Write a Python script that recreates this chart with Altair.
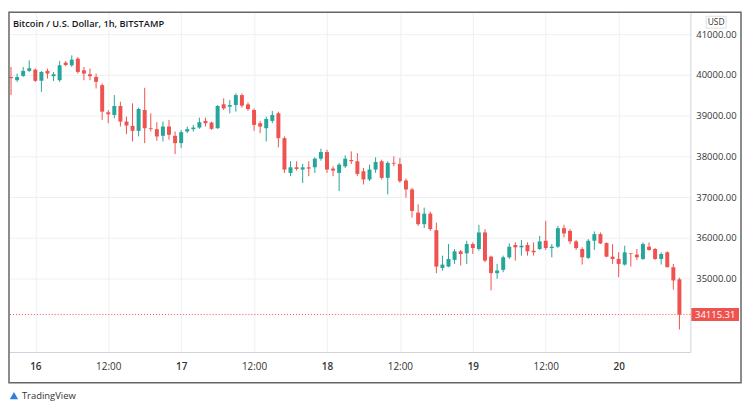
import altair as alt
import pandas as pd
import numpy as np

# ---------------- data (hourly candles, BITSTAMP BTCUSD) ----------------
START = "2021-06-15 20:00"
OPEN = [39950, 39870, 39976, 40098, 40130, 39854, 40098, 39968, 39870, 40301,
        40236, 40398, 40114, 40016, 39951, 39748, 39081, 39016, 39236, 38854,
        38748, 38626, 39138, 38690, 38667, 38504, 38732, 38504, 38325, 38610,
        38667, 38707, 38870, 38829, 38691, 39277, 39220, 39260, 39504, 39276,
        39138, 38813, 38691, 38870, 39057, 38447, 37593, 37731, 37675, 37731,
        37731, 37943, 38105, 37699, 37593, 37756, 37910, 37878, 37634, 37431,
        37675, 37878, 37472, 37840, 37813, 37407, 37187, 36618, 36334, 36594,
        36187, 35260, 35293, 35456, 35667, 35618, 35846, 35724, 36131, 35537,
        35131, 35212, 35521, 35822, 35765, 35822, 35683, 35724, 35927, 35748,
        35781, 36236, 36171, 35911, 35724, 35505, 35927, 36090, 35870, 35537,
        35480, 35342, 35620, 35586, 35480, 35781, 35724, 35480, 35643, 35277,
        34979.38]
HIGH = [40195, 40033, 40195, 40358, 40155, 40098, 40155, 40073, 40342, 40342,
        40480, 40439, 40195, 40155, 40033, 39789, 39138, 39504, 39342, 38976,
        39301, 39195, 39683, 39057, 38838, 38854, 38894, 38610, 38650, 38732,
        38772, 38951, 38951, 38854, 39260, 39423, 39382, 39545, 39545, 39325,
        39179, 38870, 38975, 39114, 39097, 38488, 37878, 37878, 37813, 37878,
        37975, 38187, 38162, 37756, 37837, 38025, 38122, 38081, 37716, 37797,
        37976, 37919, 37878, 38000, 37960, 37455, 37228, 36821, 36740, 36642,
        36374, 35561, 35846, 35724, 35700, 35927, 35887, 36318, 36212, 35561,
        35358, 35561, 35862, 35887, 35944, 35887, 35887, 36049, 36415, 35846,
        36293, 36318, 36212, 35944, 35765, 35968, 36155, 36131, 35887, 35846,
        35643, 35805, 35625, 35724, 35887, 35887, 35748, 35643, 35667, 35358,
        35022.18]
LOW = [39504, 39829, 39951, 40073, 39829, 39585, 39911, 39854, 39829, 40212,
       40195, 40033, 39870, 39870, 39667, 38894, 38813, 38935, 38732, 38545,
       38366, 38488, 38325, 38610, 38382, 38366, 38407, 38057, 38203, 38569,
       38610, 38675, 38732, 38650, 38675, 39138, 39057, 39098, 39195, 39114,
       38626, 38569, 38366, 38813, 38219, 37593, 37512, 37650, 37349, 37512,
       37593, 37894, 37593, 37512, 37146, 37716, 37813, 37512, 37309, 37390,
       37594, 37431, 37065, 37756, 37350, 36984, 36496, 36293, 36236, 36171,
       35130, 35195, 35277, 35358, 35318, 35358, 35602, 35683, 35399, 34708,
       34992, 35155, 35480, 35440, 35561, 35561, 35561, 35700, 35700, 35521,
       35748, 36009, 35846, 35700, 35342, 35480, 35700, 35846, 35521, 35358,
       35033, 35318, 35293, 35456, 35456, 35683, 35456, 35342, 35277, 34724,
       33748.35]
CLOSE = [39920, 39950, 40098, 40163, 39854, 40073, 40033, 40016, 40236, 40244,
         40374, 40073, 40033, 39968, 39829, 39098, 39033, 39236, 38854, 38756,
         38626, 39163, 38691, 38670, 38488, 38732, 38529, 38325, 38594, 38667,
         38707, 38838, 38813, 38675, 39236, 39179, 39260, 39504, 39244, 39162,
         38772, 38731, 38918, 39016, 38447, 37675, 37731, 37691, 37731, 37699,
         37943, 38105, 37675, 37650, 37796, 37943, 37880, 37569, 37431, 37675,
         37862, 37472, 37838, 37820, 37390, 37187, 36659, 36334, 36594, 36212,
         35293, 35342, 35480, 35667, 35602, 35846, 35748, 36131, 35440, 35131,
         35196, 35521, 35781, 35765, 35805, 35667, 35643, 35911, 35748, 35781,
         36236, 36106, 35911, 35748, 35521, 35927, 36090, 35862, 35537, 35480,
         35358, 35643, 35605, 35521, 35846, 35700, 35480, 35602, 35277, 34952,
         34115.31]

LAST_PRICE = [34115.31]
PRICE_TICKS = [35000, 36000, 37000, 38000, 39000, 40000, 41000]
TIME_TICKS = ["2021-06-16 00:00", "2021-06-16 12:00", "2021-06-17 00:00",
              "2021-06-17 12:00", "2021-06-18 00:00", "2021-06-18 12:00",
              "2021-06-19 00:00", "2021-06-19 12:00", "2021-06-20 00:00"]
TIME_LABELS = ["16", "12:00", "17", "12:00", "18", "12:00", "19", "12:00", "20"]
TITLE = "Bitcoin / U.S. Dollar, 1h, BITSTAMP"

UP, DOWN = "#26a69a", "#ef5350"
FONT = "Open Sans"

times = pd.date_range(START, periods=len(OPEN), freq="h")
df = pd.DataFrame({"t": times.strftime("%Y-%m-%dT%H:%M:%S"),
                   "o": OPEN, "h": HIGH, "l": LOW, "c": CLOSE})
df["dir"] = np.where(df["c"] >= df["o"], "up", "down")


def dt(s):
    ts = pd.Timestamp(s)
    return alt.DateTime(year=ts.year, month=ts.month, date=ts.day,
                        hours=ts.hour, minutes=ts.minute)


x_domain = [dt("2021-06-15 19:40"), dt("2021-06-20 11:48")]
y_domain = [33195, 41537]

# labels of the time axis, looked up from the TIME_LABELS list by hour of day
hour_label = {pd.Timestamp(t).hour: l for t, l in zip(TIME_TICKS, TIME_LABELS)}
label_expr = ("hours(datum.value) == 12 ? '%s' : '' + date(datum.value)" % hour_label[12])

x_enc = alt.X("t:T", title=None,
              scale=alt.Scale(domain=x_domain, nice=False, padding=0),
              axis=alt.Axis(values=[dt(t) for t in TIME_TICKS], labelExpr=label_expr,
                            ticks=False, tickSize=0, labelPadding=10,
                            labelFont=FONT, labelFontSize=10, labelColor="#333333",
                            labelFontWeight={"condition": {"test": "hours(datum.value) == 0",
                                                           "value": 600},
                                             "value": 400},
                            grid=True, gridColor="#eef0f4", gridWidth=1,
                            domain=True, domainColor="#d0d3da", domainWidth=1,
                            labelFlush=False, labelOverlap=False))
y_enc = alt.Y("l:Q", title=None,
              scale=alt.Scale(domain=y_domain, nice=False, zero=False, padding=0),
              axis=alt.Axis(orient="right", values=PRICE_TICKS, format=".2f",
                            ticks=False, tickSize=0, labelPadding=46, labelAlign="right",
                            labelFont=FONT, labelFontSize=9.5, labelColor="#333333",
                            grid=True, gridColor="#eef0f4", gridWidth=1,
                            domain=True, domainColor="#d0d3da", domainWidth=1))
color_enc = alt.Color("dir:N", scale=alt.Scale(domain=["up", "down"], range=[UP, DOWN]),
                      legend=None)

base = alt.Chart(df)
wicks = base.mark_rule(strokeWidth=1).encode(x=x_enc, y=y_enc, y2="h:Q", color=color_enc)
bodies = base.mark_bar(size=4).encode(x="t:T", y=alt.Y("o:Q", title=None), y2="c:Q",
                                      color=color_enc)

price_df = pd.DataFrame({"p": LAST_PRICE, "lab": [f"{v:.2f}" for v in LAST_PRICE]})
price_line = alt.Chart(price_df).mark_rule(color=DOWN, strokeDash=[1, 2], strokeWidth=1).encode(
    y=alt.Y("p:Q", title=None))
price_box = alt.Chart(price_df).mark_point(
    shape="M-1,-0.27L1,-0.27L1,0.27L-1,0.27Z", filled=True, fill=DOWN, stroke=None,
    opacity=1, size=2304).encode(x=alt.value(711), y=alt.Y("p:Q", title=None))
price_text = alt.Chart(price_df).mark_text(
    color="white", font=FONT, fontSize=9.5, align="center", baseline="middle").encode(
    x=alt.value(711), y=alt.Y("p:Q", title=None), text="lab:N")

one = pd.DataFrame({"a": [0]})
title = alt.Chart(one).mark_text(
    text=TITLE, font=FONT, fontSize=9.3, fontWeight=600, color="#131722",
    align="left", baseline="middle").encode(x=alt.value(4), y=alt.value(12))
usd_box = alt.Chart(one).mark_point(
    shape="M-1,-0.6L1,-0.6L1,0.6L-1,0.6Z", filled=False, stroke="#d6d8de",
    strokeWidth=0.8, opacity=1, size=400).encode(x=alt.value(712), y=alt.value(10))
usd = alt.Chart(one).mark_text(
    text="USD", font=FONT, fontSize=8.5, color="#333333",
    align="center", baseline="middle").encode(x=alt.value(712), y=alt.value(10))
frame = alt.Chart(one).mark_rect(fill=None, stroke="#666666", strokeWidth=1.5).encode(
    x=alt.value(0), x2=alt.value(737), y=alt.value(0), y2=alt.value(373))
logo = alt.Chart(one).mark_point(shape="triangle-up", filled=True, color="#2e7de1",
                                 size=70, opacity=1).encode(x=alt.value(5), y=alt.value(386))
logo_text = alt.Chart(one).mark_text(
    text="TradingView", font=FONT, fontSize=9.5, color="#333333",
    align="left", baseline="middle").encode(x=alt.value(13), y=alt.value(386))

chart = alt.layer(wicks, bodies, price_line, price_box, price_text,
                  title, usd_box, usd, frame, logo, logo_text).properties(
    width=686, height=342,
    padding={"left": 0, "top": 2, "right": 0, "bottom": 0},
    background="white",
).configure_view(stroke=None)

chart.save("out.html", embed_options={"renderer": "svg", "actions": False})
